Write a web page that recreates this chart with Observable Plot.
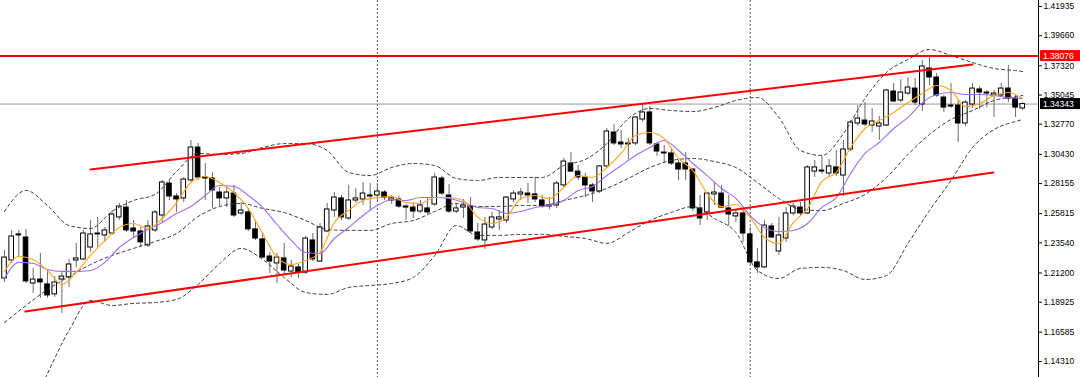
<!DOCTYPE html>
<html><head><meta charset="utf-8">
<script src="https://cdn.jsdelivr.net/npm/d3@7"></script>
<script src="https://cdn.jsdelivr.net/npm/@observablehq/plot@0.6"></script>
<style>
html,body{margin:0;padding:0;background:#fff;}
#chart svg{display:block;}
</style>
</head><body><div id="chart"></div>
<script>
// Weekly OHLC (143 bars)
const open=[
1.2077,1.2217,1.2420,1.2396,1.2038,1.2069,1.2031,1.1953,1.2069,1.2085,
1.2217,1.2225,1.2318,1.2427,1.2412,1.2427,1.2552,1.2629,1.2466,1.2443,
1.2334,1.2451,1.2567,1.2816,1.2715,1.2700,1.2840,1.3096,1.2863,1.2855,
1.2746,1.2700,1.2738,1.2583,1.2591,1.2459,1.2381,1.2248,1.2194,1.2233,
1.2131,1.2163,1.2123,1.2373,1.2209,1.2443,1.2606,1.2700,1.2544,1.2684,
1.2692,1.2723,1.2723,1.2746,1.2684,1.2692,1.2637,1.2629,1.2598,1.2622,
1.2653,1.2855,1.2723,1.2598,1.2629,1.2637,1.2435,1.2373,1.2474,1.2536,
1.2528,1.2692,1.2731,1.2738,1.2731,1.2684,1.2645,1.2645,1.2801,1.2972,
1.2909,1.2863,1.2801,1.2754,1.2949,1.3213,1.3135,1.3128,1.3128,1.3314,
1.3369,1.3120,1.3057,1.3050,1.2972,1.2972,1.2925,1.2622,1.2591,1.2731,
1.2738,1.2622,1.2560,1.2583,1.2420,1.2202,1.2163,1.2482,1.2287,1.2388,
1.2583,1.2629,1.2583,1.2909,1.2917,1.2894,1.2941,1.2878,1.3081,1.3283,
1.3306,1.3267,1.3260,1.3267,1.3532,1.3462,1.3516,1.3555,1.3431,1.3711,
1.3641,1.3485,1.3423,1.3423,1.3283,1.3431,1.3548,1.3524,1.3501,1.3501,
1.3555,1.3477,1.3400];
const high=[
1.2295,1.2451,1.2451,1.2459,1.2155,1.2272,1.2139,1.2092,1.2123,1.2225,
1.2350,1.2451,1.2528,1.2552,1.2474,1.2606,1.2661,1.2684,1.2528,1.2474,
1.2528,1.2606,1.2840,1.2840,1.2738,1.2863,1.3151,1.3128,1.2972,1.2902,
1.2785,1.2785,1.2801,1.2668,1.2622,1.2528,1.2427,1.2280,1.2272,1.2350,
1.2217,1.2186,1.2404,1.2427,1.2505,1.2661,1.2746,1.2723,1.2801,1.2777,
1.2824,1.2816,1.2816,1.2762,1.2723,1.2715,1.2653,1.2668,1.2684,1.2700,
1.2894,1.2871,1.2808,1.2661,1.2692,1.2707,1.2505,1.2552,1.2591,1.2606,
1.2715,1.2762,1.2777,1.2816,1.2863,1.2723,1.2707,1.2832,1.3011,1.3057,
1.2956,1.2894,1.2816,1.2956,1.3244,1.3275,1.3229,1.3166,1.3337,1.3431,
1.3415,1.3135,1.3112,1.3089,1.2995,1.3057,1.2933,1.2723,1.2746,1.2816,
1.2801,1.2723,1.2614,1.2614,1.2474,1.2311,1.2528,1.2505,1.2552,1.2629,
1.2661,1.2668,1.2956,1.2995,1.3026,1.3003,1.3073,1.3151,1.3306,1.3423,
1.3446,1.3400,1.3338,1.3548,1.3594,1.3625,1.3641,1.3633,1.3773,1.3807,
1.3672,1.3501,1.3594,1.3462,1.3462,1.3594,1.3571,1.3540,1.3540,1.3594,
1.3734,1.3501,1.3446];
const low=[
1.2046,1.2194,1.2240,1.2038,1.1961,1.1922,1.1922,1.1930,1.1805,1.2007,
1.2163,1.2217,1.2280,1.2318,1.2358,1.2412,1.2528,1.2435,1.2396,1.2318,
1.2318,1.2435,1.2505,1.2684,1.2591,1.2668,1.2824,1.2840,1.2684,1.2622,
1.2637,1.2629,1.2552,1.2567,1.2443,1.2373,1.2233,1.2116,1.2038,1.2108,
1.2085,1.2077,1.2108,1.2209,1.2202,1.2435,1.2552,1.2528,1.2528,1.2661,
1.2645,1.2606,1.2684,1.2684,1.2653,1.2622,1.2528,1.2544,1.2583,1.2575,
1.2637,1.2723,1.2583,1.2583,1.2544,1.2427,1.2365,1.2303,1.2459,1.2451,
1.2505,1.2668,1.2684,1.2661,1.2668,1.2622,1.2614,1.2622,1.2785,1.2902,
1.2840,1.2707,1.2668,1.2738,1.2933,1.3112,1.3089,1.3003,1.3112,1.3291,
1.3112,1.3026,1.2972,1.2956,1.2840,1.2840,1.2598,1.2489,1.2528,1.2645,
1.2622,1.2482,1.2513,1.2358,1.2186,1.2116,1.2155,1.2388,1.2256,1.2358,
1.2567,1.2567,1.2575,1.2863,1.2886,1.2863,1.2871,1.2715,1.3065,1.3260,
1.3260,1.3213,1.3151,1.3260,1.3446,1.3446,1.3501,1.3423,1.3376,1.3579,
1.3485,1.3369,1.3400,1.3135,1.3260,1.3400,1.3392,1.3407,1.3330,1.3485,
1.3446,1.3330,1.3384];
const close=[
1.2240,1.2404,1.2412,1.2054,1.2069,1.2046,1.1945,1.2046,1.2092,1.2186,
1.2233,1.2427,1.2420,1.2420,1.2451,1.2575,1.2637,1.2451,1.2443,1.2358,
1.2482,1.2591,1.2824,1.2715,1.2692,1.2847,1.3096,1.2863,1.2855,1.2762,
1.2700,1.2746,1.2567,1.2606,1.2459,1.2388,1.2240,1.2209,1.2240,1.2139,
1.2170,1.2123,1.2388,1.2225,1.2474,1.2614,1.2707,1.2552,1.2684,1.2700,
1.2738,1.2715,1.2754,1.2707,1.2700,1.2637,1.2629,1.2598,1.2645,1.2591,
1.2863,1.2738,1.2598,1.2622,1.2645,1.2443,1.2381,1.2497,1.2552,1.2552,
1.2707,1.2738,1.2746,1.2723,1.2692,1.2637,1.2637,1.2816,1.2987,1.2909,
1.2863,1.2801,1.2754,1.2949,1.3221,1.3128,1.3120,1.3120,1.3330,1.3369,
1.3128,1.3065,1.3050,1.2972,1.2925,1.2925,1.2622,1.2544,1.2738,1.2746,
1.2629,1.2575,1.2583,1.2427,1.2202,1.2163,1.2489,1.2396,1.2412,1.2583,
1.2637,1.2583,1.2941,1.2941,1.2909,1.2949,1.2894,1.3081,1.3291,1.3322,
1.3275,1.3299,1.3283,1.3540,1.3454,1.3524,1.3563,1.3446,1.3727,1.3641,
1.3501,1.3407,1.3415,1.3283,1.3446,1.3555,1.3524,1.3516,1.3516,1.3555,
1.3477,1.3407,1.34343];

// Bollinger bands, read at every third bar
const bandIdx=[0,3,6,9,12,15,18,21,24,27,30,33,36,39,42,45,48,51,54,57,60,63,66,69,72,75,78,81,84,87,90,93,96,99,102,105,108,111,114,117,120,123,126,129,132,135,138,141,142];
const upperBand=[
1.2598,1.2762,1.2645,1.2489,1.2466,1.2598,1.2684,1.2731,1.2910,1.3050,
1.3042,1.3050,1.3096,1.3127,1.3127,1.3073,1.2902,1.2878,1.2941,1.2972,
1.2956,1.2855,1.2840,1.2863,1.2863,1.2863,1.2956,1.3003,1.3127,1.3322,
1.3400,1.3384,1.3376,1.3408,1.3462,1.3485,1.3330,1.3073,1.3034,1.3205,
1.3478,1.3680,1.3781,1.3859,1.3812,1.3758,1.3711,1.3695,1.3688];
const middleBand=[
1.1734,1.1867,1.1992,1.2092,1.2186,1.2256,1.2311,1.2365,1.2427,1.2559,
1.2637,1.2661,1.2622,1.2590,1.2528,1.2459,1.2451,1.2451,1.2505,1.2528,
1.2598,1.2661,1.2637,1.2637,1.2645,1.2645,1.2684,1.2723,1.2778,1.2856,
1.2940,1.2995,1.3011,1.2987,1.2940,1.2824,1.2700,1.2614,1.2606,1.2661,
1.2731,1.2863,1.3042,1.3198,1.3314,1.3384,1.3462,1.3493,1.3501];
const lowerBand=[
1.0871,1.0972,1.1338,1.1673,1.1906,1.1867,1.1883,1.1890,1.1914,1.2031,
1.2194,1.2311,1.2225,1.2085,1.1968,1.1953,1.2007,1.2023,1.2038,1.2085,
1.2256,1.2489,1.2412,1.2412,1.2420,1.2420,1.2404,1.2388,1.2350,1.2435,
1.2528,1.2591,1.2637,1.2544,1.2435,1.2139,1.2077,1.2155,1.2163,1.2139,
1.2069,1.2100,1.2350,1.2606,1.2840,1.3096,1.3236,1.3299,1.3314];

// Moving averages, read at every second bar
const maIdx=[0,2,4,6,8,10,12,14,16,18,20,22,24,26,28,30,32,34,36,38,40,42,44,46,48,50,52,54,56,58,60,62,64,66,68,70,72,74,76,78,80,82,84,86,88,90,92,94,96,98,100,102,104,106,108,110,112,114,116,118,120,122,124,126,128,130,132,134,136,138,140,142];
const fastMA=[
1.2132,1.2248,1.2225,1.2139,1.2031,1.2124,1.2256,1.2373,1.2474,1.2505,
1.2466,1.2544,1.2668,1.2824,1.2871,1.2824,1.2746,1.2622,1.2427,1.2241,
1.2186,1.2217,1.2279,1.2513,1.2606,1.2684,1.2707,1.2715,1.2668,1.2661,
1.2707,1.2707,1.2684,1.2552,1.2505,1.2552,1.2700,1.2723,1.2700,1.2785,
1.2878,1.2863,1.2941,1.3050,1.3190,1.3213,1.3166,1.3011,1.2917,1.2738,
1.2637,1.2653,1.2552,1.2396,1.2349,1.2513,1.2622,1.2832,1.2902,1.3096,
1.3244,1.3306,1.3369,1.3446,1.3516,1.3579,1.3540,1.3415,1.3439,1.3501,
1.3524,1.3478];
const slowMA=[
1.2077,1.2202,1.2194,1.2147,1.2132,1.2132,1.2139,1.2202,1.2318,1.2396,
1.2458,1.2513,1.2583,1.2637,1.2723,1.2801,1.2793,1.2723,1.2630,1.2497,
1.2373,1.2279,1.2272,1.2388,1.2474,1.2567,1.2645,1.2692,1.2684,1.2707,
1.2707,1.2700,1.2668,1.2630,1.2622,1.2583,1.2598,1.2630,1.2645,1.2684,
1.2762,1.2793,1.2878,1.2956,1.3034,1.3096,1.3151,1.3073,1.2972,1.2878,
1.2777,1.2700,1.2567,1.2474,1.2443,1.2451,1.2505,1.2630,1.2707,1.2894,
1.3050,1.3135,1.3244,1.3330,1.3446,1.3509,1.3524,1.3509,1.3509,1.3501,
1.3485,1.3478];

// Trend channel lines (bar index, price)
const channelTopIdx=[12,135], channelTopPrice=[1.2925,1.3742];
const channelBottomIdx=[2.9,137.9], channelBottomPrice=[1.1820,1.2902];
const resistance=1.38076;
const lastPrice=1.34343;
const yearSeparators=[52,104];
const yTicks=[1.41935,1.39660,1.37320,1.35045,1.32770,1.30430,1.28155,1.25815,1.23540,1.21200,1.18925,1.16585,1.14310];

const candles=open.map((o,i)=>({i,o,h:high[i],l:low[i],c:close[i]}));
const bands=bandIdx.map((i,k)=>({i,u:upperBand[k],m:middleBand[k],l:lowerBand[k]}));
const mas=maIdx.map((i,k)=>({i,f:fastMA[k],s:slowMA[k]}));
const topLine=channelTopIdx.map((i,k)=>({i,p:channelTopPrice[k]}));
const botLine=channelBottomIdx.map((i,k)=>({i,p:channelBottomPrice[k]}));

const W=1080,H=377;
const dash={stroke:"#3a3a3a",strokeWidth:1,strokeDasharray:"3,3",curve:"monotone-x",clip:true};
const chart=Plot.plot({
  width:W,height:H,marginLeft:0,marginRight:42,marginTop:0,marginBottom:0,
  style:{fontFamily:"'Liberation Sans', Arial, sans-serif",fontSize:"8.5px",background:"#fff",color:"#000"},
  x:{domain:[-0.56,144.2],axis:null},
  y:{domain:[1.13065,1.42402]},
  marks:[
    Plot.ruleX(yearSeparators,{stroke:"#555",strokeDasharray:"2,2"}),
    Plot.ruleY([lastPrice],{stroke:"#999",strokeWidth:1}),
    Plot.ruleY([resistance],{stroke:"#ff0000",strokeWidth:2}),
    Plot.ruleX(candles,{x:"i",y1:"l",y2:"h",stroke:"#6a6a6a",strokeWidth:1}),
    Plot.rect(candles,{x1:d=>d.i-0.32,x2:d=>d.i+0.32,y1:"o",y2:"c",fill:d=>d.c>=d.o?"#fff":"#000",stroke:"#000",strokeWidth:1}),
    Plot.line(bands,{x:"i",y:"u",...dash}),
    Plot.line(bands,{x:"i",y:"m",...dash}),
    Plot.line(bands,{x:"i",y:"l",...dash}),
    Plot.line(mas,{x:"i",y:"s",stroke:"#9d6ff0",strokeWidth:1.1,curve:"monotone-x"}),
    Plot.line(mas,{x:"i",y:"f",stroke:"#ffa521",strokeWidth:1.1,curve:"monotone-x"}),
    Plot.line(topLine,{x:"i",y:"p",stroke:"#ff0000",strokeWidth:2}),
    Plot.line(botLine,{x:"i",y:"p",stroke:"#ff0000",strokeWidth:2}),
    Plot.axisY(yTicks,{anchor:"right",tickSize:3,tickPadding:2,tickFormat:d=>d.toFixed(5)})
  ]
});
document.getElementById("chart").appendChild(chart);
const svg=d3.select(chart);
const ys=chart.scale("y"), xs=chart.scale("x");
const yPx=d3.scaleLinear(ys.domain,ys.range);
const axisX=xs.range[1];
svg.append("line").attr("x1",axisX+0.5).attr("x2",axisX+0.5).attr("y1",0).attr("y2",H).attr("stroke","#000");
function tag(v,fill){
  const y=yPx(v);
  svg.append("rect").attr("x",axisX+2).attr("y",y-5.5).attr("width",W-axisX-2).attr("height",11).attr("fill",fill);
  svg.append("text").attr("x",axisX+5).attr("y",y).attr("dy","0.35em").attr("fill","#fff")
    .attr("text-anchor","start")
    .attr("font-family","'Liberation Sans', Arial, sans-serif").attr("font-size","8.5px").text(v.toFixed(5));
}
tag(resistance,"#ff0000");
tag(lastPrice,"#000");
</script>
</body></html>
